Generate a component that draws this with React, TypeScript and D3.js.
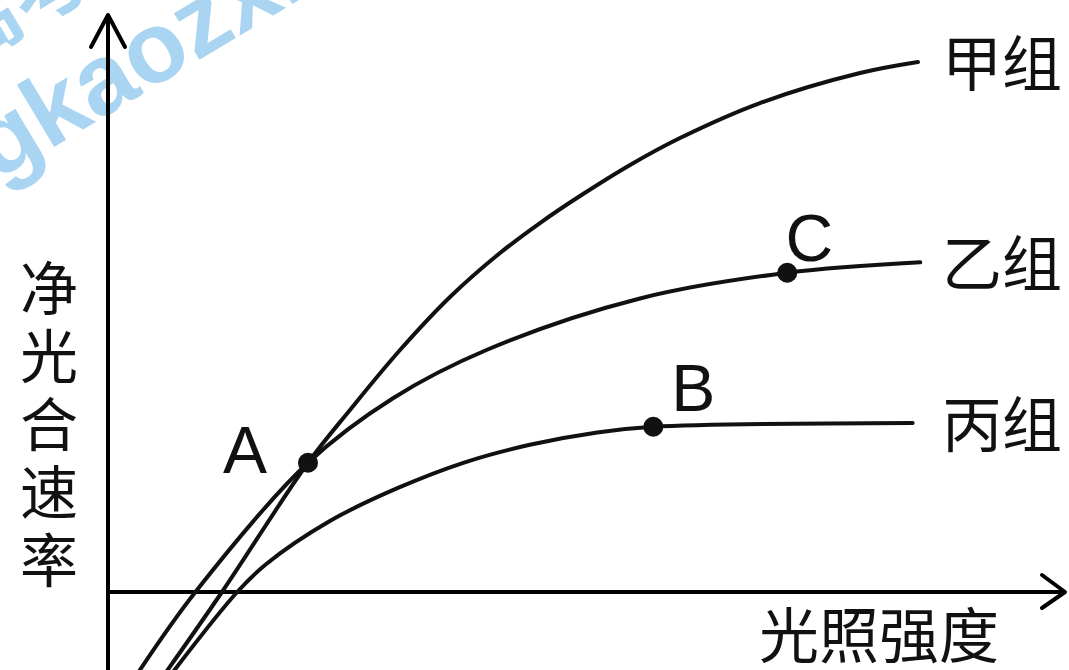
import React from 'react';
import * as d3 from 'd3';

// light intensity (x) and net photosynthetic rate (y)
const lightJia = [6.0, 12.0, 21.05, 25.47, 30.74, 36.0, 41.26, 45.47, 49.68, 54.95, 60.21, 68.63, 79.16, 85.26];
const rateJia = [-8.6, 0, 13.6, 19.16, 25.47, 31.05, 35.68, 38.84, 41.68, 44.95, 47.79, 51.47, 54.63, 55.79];

const lightYi = [3.1, 9.2, 21.05, 30.0, 39.9, 56.0, 71.5, 85.5];
const rateYi = [-8.6, 0, 13.6, 20.4, 25.5, 30.9, 33.6, 34.7];

const lightBing = [6.7, 13.6, 16.6, 23.4, 30.4, 37.4, 44.4, 51.5, 57.4, 84.7];
const rateBing = [-8.6, 0, 2.9, 7.5, 10.9, 13.6, 15.5, 16.8, 17.4, 17.8];

const groupNames = ['甲组', '乙组', '丙组'];
const pointNames = ['A', 'B', 'C'];
const pointLight = [21.05, 57.4, 71.5];
const pointRate = [13.6, 17.4, 33.6];

const yTitle = '净光合速率';
const xTitle = '光照强度';

const W = 1069;
const H = 670;

const App = () => {
  const x = d3.scaleLinear().domain([0, 100]).range([108, 1058]);
  const y = d3.scaleLinear().domain([0, 60]).range([592, 22]);

  const line = d3
    .line<[number, number]>()
    .x(d => x(d[0]))
    .y(d => y(d[1]))
    .curve(d3.curveCatmullRom.alpha(0.5));

  const series = [
    lightJia.map((v, i) => [v, rateJia[i]] as [number, number]),
    lightYi.map((v, i) => [v, rateYi[i]] as [number, number]),
    lightBing.map((v, i) => [v, rateBing[i]] as [number, number]),
  ];

  const cjk = '"Noto Sans CJK SC", "Noto Sans", sans-serif';
  const latin = '"Liberation Sans Narrow", "Liberation Sans", Arial, sans-serif';

  // label offsets for A, B, C (pixels)
  const labelOff = [
    [-63, 10],
    [40, -16],
    [22, -12],
  ];

  const x0 = x(0);
  const y0 = y(0);
  const axisEnd = 1065;
  const yTop = 15;

  return (
    <svg
      width={W}
      height={H}
      style={{ position: 'absolute', left: 0, top: 0, background: '#fff' }}
    >
      {/* watermark */}
      <g fill="#a9d5f2" fontFamily='"Liberation Sans", Arial, sans-serif' fontWeight="bold">
        <text transform="translate(-4,182) rotate(-31)" fontSize={100}>
          gkaozx.com
        </text>
        <text transform="translate(-40,70) rotate(-31)" fontSize={80} fontFamily={cjk}>
          高考在线
        </text>
      </g>

      {/* axes */}
      <g stroke="#000" strokeWidth={4} fill="none" strokeLinecap="round" strokeLinejoin="round">
        <line x1={x0} y1={yTop + 2} x2={x0} y2={H + 5} />
        <path d={`M${x0 - 17},${yTop + 32} L${x0},${yTop} L${x0 + 17},${yTop + 32}`} />
        <line x1={x0} y1={y0} x2={axisEnd - 2} y2={y0} />
        <path d={`M${axisEnd - 23},${y0 - 17} L${axisEnd},${y0} L${axisEnd - 23},${y0 + 16}`} />
      </g>

      {/* curves */}
      <g fill="none" stroke="#111" strokeWidth={4} strokeLinecap="round">
        {series.map((s, i) => (
          <path key={i} d={line(s) || ''} />
        ))}
      </g>

      {/* marked points */}
      {pointNames.map((n, i) => (
        <g key={n}>
          <circle cx={x(pointLight[i])} cy={y(pointRate[i])} r={10} fill="#111" />
          <text
            x={x(pointLight[i]) + labelOff[i][0]}
            y={y(pointRate[i]) + labelOff[i][1]}
            textAnchor="middle"
            fontFamily={latin}
            fontSize={66}
            fill="#111"
          >
            {n}
          </text>
        </g>
      ))}

      {/* group labels */}
      {series.map((s, i) => {
        const last = s[s.length - 1];
        return (
          <text
            key={groupNames[i]}
            x={942}
            y={y(last[1]) + 24}
            fontFamily={cjk}
            fontSize={60}
            fill="#111"
          >
            {groupNames[i]}
          </text>
        );
      })}

      {/* axis titles */}
      {yTitle.split('').map((c, i) => (
        <text
          key={i}
          x={49}
          y={310 + i * 68}
          textAnchor="middle"
          fontFamily={cjk}
          fontSize={58}
          fill="#111"
        >
          {c}
        </text>
      ))}
      <text x={879} y={658} textAnchor="middle" fontFamily={cjk} fontSize={60} fill="#111">
        {xTitle}
      </text>
    </svg>
  );
};

export default App;
